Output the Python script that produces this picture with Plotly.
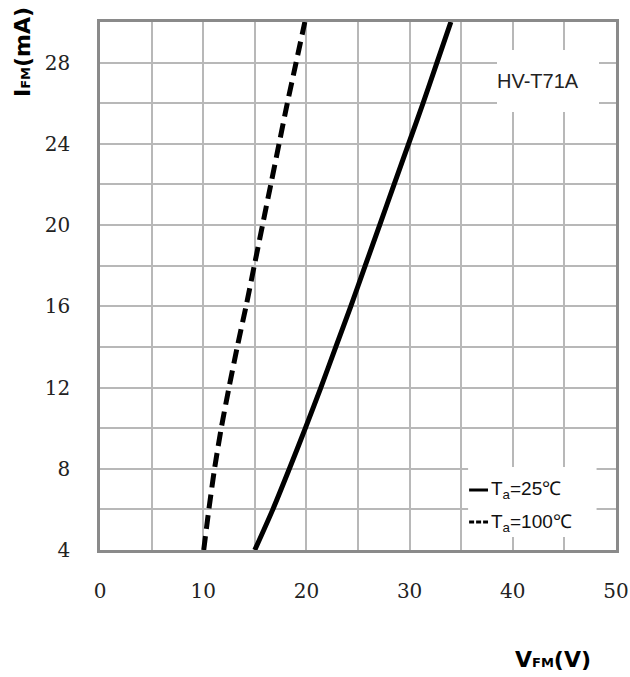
import plotly.graph_objects as go

# ---- data ----
i_fm = [4, 6, 8, 10, 12, 14, 16, 18, 20, 22, 24, 26, 28, 30]
v_fm_25 = [15.0, 16.75, 18.35, 19.9, 21.4, 22.85, 24.3, 25.7, 27.1, 28.5, 29.9, 31.3, 32.65, 34.0]
v_fm_100 = [10.05, 10.55, 11.1, 11.75, 12.5, 13.3, 14.15, 14.95, 15.75, 16.55, 17.35, 18.15, 19.0, 19.85]
x_ticks = [0, 10, 20, 30, 40, 50]
y_ticks = [4, 8, 12, 16, 20, 24, 28]
series_names = ["25℃", "100℃"]
model_label = "HV-T71A"

# ---- layout geometry ----
# horizontal page units appear slightly compressed in the capture; compensate
SX = 1.017
W, H = round(630 * SX), 677
ML, MT = round(98 * SX), 22
MR = W - round(617 * SX)
MB = H - 550
PW = W - ML - MR
PH = H - MT - MB
PB = H - MB


def px_x(px):  # target screen pixel -> paper x
    return (px * SX - ML) / PW


def px_y(py):  # target screen pixel -> paper y
    return (PB - py) / PH


fig = go.Figure()
fig.add_trace(go.Scatter(x=v_fm_25, y=i_fm, mode="lines", name="Ta=" + series_names[0],
                         line=dict(color="black", width=5, shape="spline", smoothing=0.8),
                         showlegend=False))
fig.add_trace(go.Scatter(x=v_fm_100, y=i_fm, mode="lines", name="Ta=" + series_names[1],
                         line=dict(color="black", width=5, dash="14px,7px", shape="spline",
                                   smoothing=0.8),
                         showlegend=False))

grid_col = "#b8b8b8"
frame_col = "#8a8a8a"
sans = "Liberation Sans"
tick_font = dict(family="DejaVu Serif", size=20, color="#222222")

fig.update_xaxes(range=[0, 50], tickvals=x_ticks, ticktext=[str(v) for v in x_ticks],
                 showgrid=True, gridcolor=grid_col, gridwidth=1.5,
                 minor=dict(dtick=5, tick0=0, showgrid=True, gridcolor=grid_col, gridwidth=1.5),
                 showline=True, linecolor=frame_col, linewidth=2.5, mirror=True,
                 ticks="", zeroline=False, tickfont=tick_font, ticklabelstandoff=21)
fig.update_yaxes(range=[4, 30], tickvals=y_ticks, ticktext=[str(v) for v in y_ticks],
                 showgrid=True, gridcolor=grid_col, gridwidth=1.5,
                 minor=dict(dtick=2, tick0=0, showgrid=True, gridcolor=grid_col, gridwidth=1.5),
                 showline=True, linecolor=frame_col, linewidth=2.5, mirror=True,
                 ticks="", zeroline=False, tickfont=tick_font, ticklabelstandoff=23)

title_font = dict(family="DejaVu Sans", size=22, color="black")
fm = "<span style='font-size:13px'>FM</span>"

annotations = [
    # y axis title
    dict(text=f"<b>I{fm}(mA)</b>", textangle=-90, xref="paper", yref="paper",
         x=px_x(21), y=px_y(52), xanchor="center", yanchor="middle",
         showarrow=False, font=title_font),
    # x axis title
    dict(text=f"<b>V{fm}(V)</b>", xref="paper", yref="paper",
         x=px_x(553), y=px_y(659), xanchor="center", yanchor="middle",
         showarrow=False, font=title_font),
    # model label box
    dict(text=model_label, xref="paper", yref="paper", x=px_x(497), y=px_y(50),
         xanchor="left", yanchor="top",
         width=round(100 * SX), height=62, align="left", valign="middle", bgcolor="white",
         borderpad=0, borderwidth=0, showarrow=False,
         font=dict(family=sans, size=20, color="#222222")),
    # legend texts
    dict(text="T<sub>a</sub>=" + series_names[0], xref="paper", yref="paper",
         x=px_x(489), y=px_y(490), xanchor="left", yanchor="middle",
         showarrow=False, font=dict(family=sans, size=19, color="#111111")),
    dict(text="T<sub>a</sub>=" + series_names[1], xref="paper", yref="paper",
         x=px_x(489), y=px_y(523), xanchor="left", yanchor="middle",
         showarrow=False, font=dict(family=sans, size=19, color="#111111")),
]

shapes = [
    # legend background
    dict(type="rect", xref="paper", yref="paper", layer="above",
         x0=px_x(468), x1=px_x(597), y0=px_y(537), y1=px_y(467),
         fillcolor="white", line=dict(width=0)),
    # legend samples
    dict(type="line", xref="paper", yref="paper", layer="above",
         x0=px_x(469), x1=px_x(488), y0=px_y(490), y1=px_y(490),
         line=dict(color="black", width=3)),
    dict(type="line", xref="paper", yref="paper", layer="above",
         x0=px_x(469), x1=px_x(488), y0=px_y(522), y1=px_y(522),
         line=dict(color="black", width=3, dash="5px,2px")),
]

fig.update_layout(width=W, height=H, margin=dict(l=ML, r=MR, t=MT, b=MB),
                  plot_bgcolor="white", paper_bgcolor="white",
                  annotations=annotations, shapes=shapes, showlegend=False)

# remove the default page margin so the figure fills the window exactly
post = "document.body.style.margin='0';document.body.style.overflow='hidden';"
fig.write_html("out.html", post_script=post, config={"displayModeBar": False})
